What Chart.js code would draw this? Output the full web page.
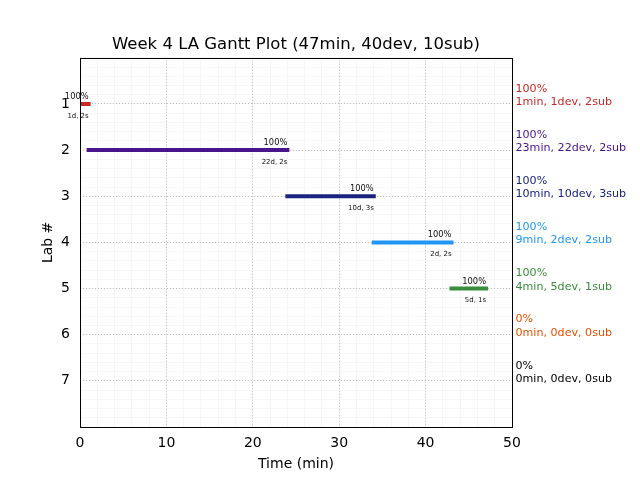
<!DOCTYPE html>
<html><head><meta charset="utf-8">
<script src="https://cdn.jsdelivr.net/npm/chart.js@4"></script>
<style>html,body{margin:0;padding:0;background:#fff}canvas{display:block}</style>
</head><body>
<canvas id="c" width="640" height="480"></canvas>
<script>
const labs = [1, 2, 3, 4, 5, 6, 7];
const startMin = [0, 1, 24, 34, 43, null, null];
const endMin = [1, 24, 34, 43, 47, null, null];
const percent = [100, 100, 100, 100, 100, 0, 0];
const minutes = [1, 23, 10, 9, 4, 0, 0];
const devices = [1, 22, 10, 2, 5, 0, 0];
const submissions = [2, 2, 3, 2, 1, 0, 0];
const labColors = ['#c62828', '#4a148c', '#1a237e', '#2196f3', '#388e3c', '#e65100', '#000000'];
const xTicks = [0, 10, 20, 30, 40, 50];
const titleText = 'Week 4 LA Gantt Plot (47min, 40dev, 10sub)';

const F = '"DejaVu Sans", "Liberation Sans", sans-serif';

const overlay = {
  id: 'overlay',
  afterDatasetsDraw(chart) {
    const {ctx, chartArea: a, scales: {x, y}} = chart;
    ctx.save();
    ctx.strokeStyle = '#000';
    ctx.lineWidth = 1;
    ctx.strokeRect(Math.round(a.left) + 0.5, Math.round(a.top) + 0.5,
      Math.round(a.right) - Math.round(a.left), Math.round(a.bottom) - Math.round(a.top));
    labs.forEach((lab, i) => {
      const py = y.getPixelForValue(lab);
      ctx.textBaseline = 'alphabetic';
      if (endMin[i] != null) {
        const ex = x.getPixelForValue(endMin[i]);
        ctx.fillStyle = '#111';
        ctx.textAlign = 'right';
        ctx.font = '8.33px ' + F;
        ctx.fillText(percent[i] + '%', ex, py - 5);
        ctx.font = '6.94px ' + F;
        ctx.fillText(devices[i] + 'd, ' + submissions[i] + 's', ex, py + 13.7);
      }
      const rx = a.right + 3.5;
      ctx.fillStyle = labColors[i];
      ctx.textAlign = 'left';
      ctx.font = '11.1px ' + F;
      ctx.fillText(percent[i] + '%', rx, py - 12.3);
      ctx.fillText(minutes[i] + 'min, ' + devices[i] + 'dev, ' + submissions[i] + 'sub', rx, py + 1);
    });
    ctx.restore();
  }
};

const datasets = [];
labs.forEach((lab, i) => {
  if (startMin[i] == null) return;
  datasets.push({
    data: [{x: startMin[i], y: lab}, {x: endMin[i], y: lab}],
    borderColor: labColors[i],
    backgroundColor: labColors[i],
    borderWidth: 4,
    borderCapStyle: 'square',
    showLine: true,
    pointRadius: 0,
    clip: 0
  });
});

function stepTicks(lo, hi, step) {
  const t = [];
  const n = Math.round((hi - lo) / step);
  for (let k = 0; k <= n; k++) t.push({value: lo + k * step});
  return t;
}

new Chart(document.getElementById('c'), {
  type: 'scatter',
  data: {datasets},
  plugins: [overlay],
  options: {
    responsive: false,
    animation: false,
    events: [],
    devicePixelRatio: 1,
    layout: {padding: {left: 0, right: 128, top: 0, bottom: 0}},
    plugins: {
      legend: {display: false},
      tooltip: {enabled: false},
      title: {
        display: true, text: titleText, fullSize: false, color: '#000',
        font: {family: F, size: 16.5, weight: 'normal'},
        padding: {top: 35, bottom: 3}
      }
    },
    scales: {
      x: {
        type: 'linear', position: 'bottom', min: 0, max: 50,
        afterBuildTicks: s => { s.ticks = xTicks.map(v => ({value: v})); },
        afterFit: s => { s.height = 53; },
        ticks: {font: {family: F, size: 14}, color: '#000', padding: 8},
        grid: {color: '#bdbdbd', lineWidth: 1, drawTicks: false, z: -1},
        border: {display: false, dash: [1, 2]},
        title: {display: true, text: 'Time (min)', color: '#000', font: {family: F, size: 14}, padding: {top: 0, bottom: 7}}
      },
      y: {
        type: 'linear', position: 'left', min: 0, max: 8, reverse: true,
        afterBuildTicks: s => { s.ticks = labs.map(v => ({value: v})); },
        afterFit: s => { s.width = 80; },
        ticks: {font: {family: F, size: 14}, color: '#000', padding: 10},
        grid: {color: '#bdbdbd', lineWidth: 1, drawTicks: false, z: -1},
        border: {display: false, dash: [1, 2]},
        title: {display: true, text: 'Lab #', color: '#000', font: {family: F, size: 14}, padding: {top: 40, bottom: 0}}
      },
      x2: {
        type: 'linear', position: 'top', min: 0, max: 50,
        afterBuildTicks: s => { s.ticks = stepTicks(0, 50, 2); },
        afterFit: s => { s.height = 0; },
        ticks: {display: false},
        grid: {color: '#f6f6f6', lineWidth: 1, drawTicks: false, z: -2},
        border: {display: false}
      },
      y2: {
        type: 'linear', position: 'right', min: 0, max: 8, reverse: true,
        afterBuildTicks: s => { s.ticks = stepTicks(0, 8, 0.2); },
        afterFit: s => { s.width = 0; },
        ticks: {display: false},
        grid: {color: '#f6f6f6', lineWidth: 1, drawTicks: false, z: -2},
        border: {display: false}
      }
    }
  }
});
</script>
</body></html>
